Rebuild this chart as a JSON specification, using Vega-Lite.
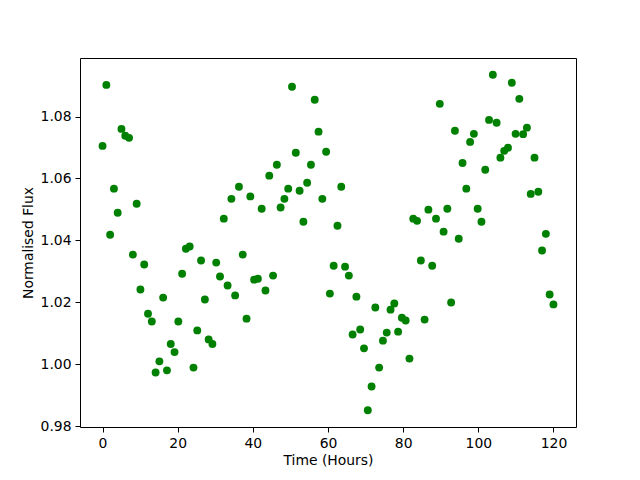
{
  "$schema": "https://vega.github.io/schema/vega-lite/v6.json",
  "width": 496,
  "height": 369,
  "autosize": {"type": "none"},
  "padding": {"left": 80, "top": 58, "right": 64, "bottom": 53},
  "background": "white",
  "config": {
    "view": {"stroke": "black", "strokeWidth": 1},
    "axis": {
      "grid": false,
      "domain": false,
      "tickColor": "black",
      "tickSize": 5,
      "tickWidth": 1,
      "labelFont": "DejaVu Sans",
      "labelFontSize": 13.9,
      "labelColor": "black",
      "labelPadding": 4,
      "titleFont": "DejaVu Sans",
      "titleFontSize": 13.9,
      "titleFontWeight": "normal",
      "titleColor": "black"
    }
  },
  "data": {"values": [
    {"t": 0.0, "f": 1.0705}, {"t": 1.01, "f": 1.0902}, {"t": 2.02, "f": 1.0418}, {"t": 3.03, "f": 1.0567},
    {"t": 4.03, "f": 1.0489}, {"t": 5.04, "f": 1.076}, {"t": 6.05, "f": 1.0738}, {"t": 7.06, "f": 1.0731},
    {"t": 8.07, "f": 1.0354}, {"t": 9.08, "f": 1.0518}, {"t": 10.08, "f": 1.0241}, {"t": 11.09, "f": 1.0322},
    {"t": 12.1, "f": 1.0163}, {"t": 13.11, "f": 1.0138}, {"t": 14.12, "f": 0.9973}, {"t": 15.13, "f": 1.0009},
    {"t": 16.13, "f": 1.0215}, {"t": 17.14, "f": 0.998}, {"t": 18.15, "f": 1.0065}, {"t": 19.16, "f": 1.0039},
    {"t": 20.17, "f": 1.0138}, {"t": 21.18, "f": 1.0292}, {"t": 22.18, "f": 1.0373}, {"t": 23.19, "f": 1.038},
    {"t": 24.2, "f": 0.9989}, {"t": 25.21, "f": 1.0109}, {"t": 26.22, "f": 1.0335}, {"t": 27.23, "f": 1.0209},
    {"t": 28.24, "f": 1.008}, {"t": 29.24, "f": 1.0065}, {"t": 30.25, "f": 1.0328}, {"t": 31.26, "f": 1.0283},
    {"t": 32.27, "f": 1.047}, {"t": 33.28, "f": 1.0254}, {"t": 34.29, "f": 1.0534}, {"t": 35.29, "f": 1.0222},
    {"t": 36.3, "f": 1.0573}, {"t": 37.31, "f": 1.0354}, {"t": 38.32, "f": 1.0147}, {"t": 39.33, "f": 1.0542},
    {"t": 40.34, "f": 1.0273}, {"t": 41.34, "f": 1.0276}, {"t": 42.35, "f": 1.0502}, {"t": 43.36, "f": 1.0238},
    {"t": 44.37, "f": 1.0609}, {"t": 45.38, "f": 1.0286}, {"t": 46.39, "f": 1.0644}, {"t": 47.39, "f": 1.0506},
    {"t": 48.4, "f": 1.0534}, {"t": 49.41, "f": 1.0567}, {"t": 50.42, "f": 1.0896}, {"t": 51.43, "f": 1.0683},
    {"t": 52.44, "f": 1.056}, {"t": 53.45, "f": 1.046}, {"t": 54.45, "f": 1.0586}, {"t": 55.46, "f": 1.0644},
    {"t": 56.47, "f": 1.0854}, {"t": 57.48, "f": 1.0751}, {"t": 58.49, "f": 1.0534}, {"t": 59.5, "f": 1.0686},
    {"t": 60.5, "f": 1.0228}, {"t": 61.51, "f": 1.0318}, {"t": 62.52, "f": 1.0447}, {"t": 63.53, "f": 1.0573},
    {"t": 64.54, "f": 1.0315}, {"t": 65.55, "f": 1.0286}, {"t": 66.55, "f": 1.0096}, {"t": 67.56, "f": 1.0218},
    {"t": 68.57, "f": 1.0112}, {"t": 69.58, "f": 1.0051}, {"t": 70.59, "f": 0.9851}, {"t": 71.6, "f": 0.9928},
    {"t": 72.6, "f": 1.0183}, {"t": 73.61, "f": 0.9989}, {"t": 74.62, "f": 1.0076}, {"t": 75.63, "f": 1.0102},
    {"t": 76.64, "f": 1.0176}, {"t": 77.65, "f": 1.0196}, {"t": 78.66, "f": 1.0105}, {"t": 79.66, "f": 1.015},
    {"t": 80.67, "f": 1.0141}, {"t": 81.68, "f": 1.0018}, {"t": 82.69, "f": 1.047}, {"t": 83.7, "f": 1.0463},
    {"t": 84.71, "f": 1.0335}, {"t": 85.71, "f": 1.0144}, {"t": 86.72, "f": 1.0499}, {"t": 87.73, "f": 1.0318},
    {"t": 88.74, "f": 1.047}, {"t": 89.75, "f": 1.0841}, {"t": 90.76, "f": 1.0428}, {"t": 91.76, "f": 1.0502},
    {"t": 92.77, "f": 1.0199}, {"t": 93.78, "f": 1.0754}, {"t": 94.79, "f": 1.0405}, {"t": 95.8, "f": 1.065},
    {"t": 96.81, "f": 1.0567}, {"t": 97.82, "f": 1.0718}, {"t": 98.82, "f": 1.0744}, {"t": 99.83, "f": 1.0502},
    {"t": 100.84, "f": 1.046}, {"t": 101.85, "f": 1.0628}, {"t": 102.86, "f": 1.0789}, {"t": 103.87, "f": 1.0935},
    {"t": 104.87, "f": 1.078}, {"t": 105.88, "f": 1.0667}, {"t": 106.89, "f": 1.0689}, {"t": 107.9, "f": 1.0699},
    {"t": 108.91, "f": 1.0909}, {"t": 109.92, "f": 1.0744}, {"t": 110.92, "f": 1.0857}, {"t": 111.93, "f": 1.0743},
    {"t": 112.94, "f": 1.0764}, {"t": 113.95, "f": 1.055}, {"t": 114.96, "f": 1.0667}, {"t": 115.97, "f": 1.0557},
    {"t": 116.97, "f": 1.0367}, {"t": 117.98, "f": 1.0421}, {"t": 118.99, "f": 1.0225}, {"t": 120.0, "f": 1.0193}
  ]},
  "mark": {"type": "point", "shape": "circle", "filled": true, "opacity": 1, "color": "#008000", "size": 62},
  "encoding": {
    "x": {
      "field": "t", "type": "quantitative",
      "scale": {"domain": [-6, 126], "nice": false, "zero": false},
      "axis": {"title": "Time (Hours)", "values": [0, 20, 40, 60, 80, 100, 120], "format": "d", "titlePadding": 4}
    },
    "y": {
      "field": "f", "type": "quantitative",
      "scale": {"domain": [0.9797, 1.0989], "nice": false, "zero": false},
      "axis": {"title": "Normalised Flux", "values": [0.98, 1.0, 1.02, 1.04, 1.06, 1.08], "format": ".2f", "titlePadding": 5}
    }
  }
}
